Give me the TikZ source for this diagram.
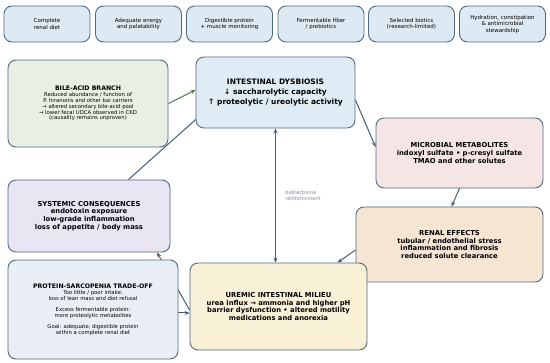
\documentclass[tikz,border=0pt]{standalone}
\usepackage{fontspec}
\setmainfont{DejaVu Sans}
\usetikzlibrary{arrows.meta}
\pgfdeclarelayer{back}
\pgfsetlayers{back,main}
\definecolor{edgeblue}{HTML}{4F6A7E}
\definecolor{linkblue}{HTML}{3F6077}
\definecolor{linkgreen}{HTML}{4C7A52}
\definecolor{topfill}{HTML}{DEEAF3}
\definecolor{bilefill}{HTML}{E7F0E2}
\definecolor{dysfill}{HTML}{E0ECF5}
\definecolor{micfill}{HTML}{F6E5E5}
\definecolor{sysfill}{HTML}{E9E5F3}
\definecolor{renfill}{HTML}{F7E5D4}
\definecolor{profill}{HTML}{EAEEF5}
\definecolor{urefill}{HTML}{F8F0D7}
\definecolor{notegray}{HTML}{7A8590}

\begin{document}
\begin{tikzpicture}[x=1pt,y=-1pt,
  box/.style={draw=edgeblue, line width=0.9pt, rounded corners=8pt, align=center, inner sep=2pt},
  topbox/.style={box, fill=topfill, minimum width=86pt, minimum height=36pt,
    font=\fontsize{5.5}{6.5}\selectfont},
  sidebox/.style={box, font=\fontsize{5.3}{5.9}\selectfont},
  bigbox/.style={box, font=\bfseries\fontsize{6.8}{7.6}\selectfont},
  link/.style={draw=linkblue, line width=1pt, -{Stealth[length=5pt,width=4pt]}}]

\useasboundingbox (0,0) rectangle (550,363);

% ---------- diet measures ----------
\node[topbox] (diet)  at (47,24)    {Complete\\renal diet};
\node[topbox] (energy) at (138.5,24) {Adequate energy\\and palatability};
\node[topbox] (digest) at (229.5,24) {Digestible protein\\+ muscle monitoring};
\node[topbox] (fiber) at (321,24)   {Fermentable fiber\\/ prebiotics};
\node[topbox] (biot)  at (411.5,24) {Selected biotics\\(research-limited)};
\node[topbox] (hydr)  at (502.5,24) {Hydration, constipation\\\& antimicrobial\\stewardship};

% ---------- side boxes ----------
\node[sidebox, fill=bilefill, minimum width=160pt, minimum height=87pt] (bile) at (88,103.5)
  {{\bfseries\fontsize{6.2}{6.4}\selectfont BILE-ACID BRANCH}\\
   Reduced abundance / function of\\
   P. hiranonis and other bai carriers\\
   → altered secondary bile-acid pool\\
   → lower fecal UDCA observed in CKD\\
   (causality remains unproven)};

\node[sidebox, fill=profill, minimum width=170pt, minimum height=99pt] (pro) at (93,309.5)
  {{\bfseries\fontsize{6.2}{6.4}\selectfont PROTEIN-SARCOPENIA TRADE-OFF}\\[1pt]
   Too little / poor intake:\\
   loss of lean mass and diet refusal\\[5pt]
   Excess fermentable protein:\\
   more proteolytic metabolites\\[5pt]
   Goal: adequate, digestible protein\\
   within a complete renal diet};

% ---------- main loop ----------
\node[bigbox, fill=dysfill, minimum width=159pt, minimum height=71pt,
  font=\bfseries\fontsize{7.5}{9.8}\selectfont] (dys) at (275.5,92.5)
  {INTESTINAL DYSBIOSIS\\↓ saccharolytic capacity\\↑ proteolytic / ureolytic activity};

\node[bigbox, fill=micfill, minimum width=167pt, minimum height=70pt,
  font=\bfseries\fontsize{6.8}{8}\selectfont] (mic) at (459.5,153)
  {MICROBIAL METABOLITES\\indoxyl sulfate • p-cresyl sulfate\\TMAO and other solutes};

\node[bigbox, fill=sysfill, minimum width=162pt, minimum height=72pt] (sys) at (89,216)
  {SYSTEMIC CONSEQUENCES\\endotoxin exposure\\low-grade inflammation\\loss of appetite / body mass};

\node[bigbox, fill=renfill, minimum width=187pt, minimum height=75pt] (ren) at (449.5,244.5)
  {RENAL EFFECTS\\tubular / endothelial stress\\inflammation and fibrosis\\reduced solute clearance};

\node[bigbox, fill=urefill, minimum width=177pt, minimum height=87pt] (ure) at (278.5,306.5)
  {UREMIC INTESTINAL MILIEU\\urea influx → ammonia and higher pH\\barrier dysfunction • altered motility\\medications and anorexia};

% ---------- connectors ----------
\begin{pgfonlayer}{back}
\draw[link, draw=linkgreen] (bile.east) -- ([yshift=2.5pt]dys.west);
\draw[link] ([xshift=-42pt]sys.north east) -- ([shift={(7pt,15pt)}]dys.south west);
\draw[link, {Stealth[length=5pt,width=4pt]}-{Stealth[length=5pt,width=4pt]}]
  (dys.south) -- (dys.south |- ure.north)
  node[midway, anchor=west, xshift=6pt, align=left, text=notegray,
       font=\fontsize{5}{6}\selectfont] (note) {bidirectional\\reinforcement};
\draw[link] ([yshift=-7.5pt]dys.east) -- ([yshift=6pt]mic.west);
\draw[link] (mic.south) -- ([xshift=2pt]ren.north);
\draw[link] ([yshift=-5.5pt]ren.west) -- ([xshift=-30pt]ure.north east);
\draw[link] ([yshift=-3.5pt]ure.west) -- ([xshift=68pt]sys.south);
\draw[link] ([yshift=-3.5pt]pro.east) -- ([yshift=-3.5pt]pro.east -| ure.west);
\end{pgfonlayer}

\end{tikzpicture}
\end{document}
